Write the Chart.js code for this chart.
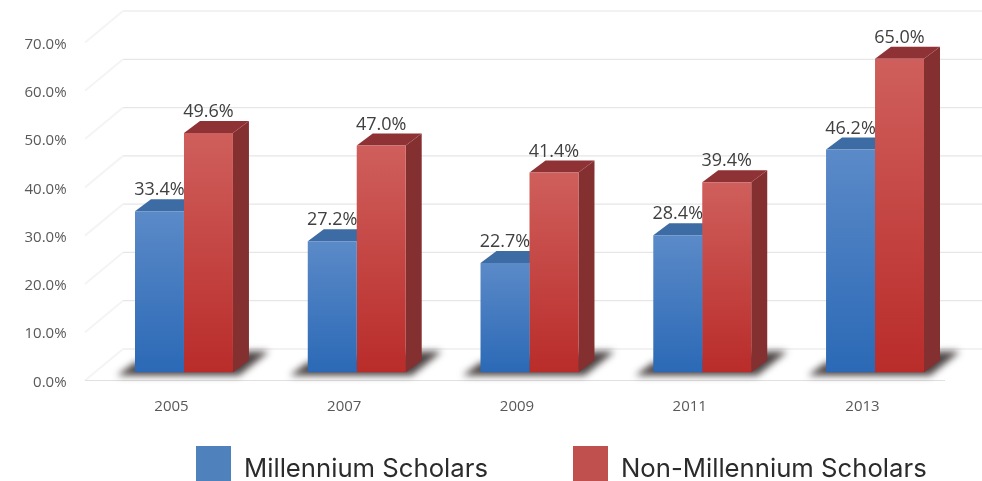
<!DOCTYPE html>
<html>
<head>
<meta charset="utf-8">
<title>Scholars chart</title>
<script src="https://cdn.jsdelivr.net/npm/chart.js@4"></script>
<style>
  html, body { margin: 0; padding: 0; background: #fff; overflow: hidden; }
  #wrap { position: relative; width: 982px; height: 481px; }
  #canvas-1 { filter: blur(0.5px); }
  #legend span { position: absolute; }
  #legend .box { top: 446px; width: 35px; height: 35px; }
  #legend .txt { top: 451px; font: 25.7px Inter, sans-serif; line-height: 34px; color: #2b2b2b; white-space: nowrap; }
</style>
</head>
<body>
<div id="wrap">
  <canvas id="canvas-1" width="982" height="481"></canvas>
  <div id="legend"></div>
</div>
<script>
var years = ['2005', '2007', '2009', '2011', '2013'];
var millennium = [33.4, 27.2, 22.7, 28.4, 46.2];
var nonMillennium = [49.6, 47.0, 41.4, 39.4, 65.0];
var legendLeft = [196, 573];

var faces = [
    { top: '#5b8ac8', bottom: '#2b69b6', roof: '#3d6ba3', side: '#2f5a94' },
    { top: '#cf5f5c', bottom: '#b92c2a', roof: '#8f3236', side: '#853030' }
];
var legendColors = ['#4f81bd', '#c0504d'];

function frontFill(index) {
    return function (context) {
        var chart = context.chart;
        if (!chart.chartArea || context.raw === undefined) return faces[index].bottom;
        var y = chart.scales.y;
        var g = chart.ctx.createLinearGradient(0, y.getPixelForValue(context.raw), 0, y.getPixelForValue(0));
        g.addColorStop(0, faces[index].top);
        g.addColorStop(1, faces[index].bottom);
        return g;
    };
}

// back wall, floor and the fake 3d sides of the bars
var depth3d = {
    id: 'depth3d',
    beforeDatasetsDraw: function (chart) {
        var ctx = chart.ctx;
        var y = chart.scales.y;
        ctx.save();
        y.ticks.forEach(function (t) {
            var py = y.getPixelForValue(t.value);
            ctx.strokeStyle = '#e6e6e6';
            ctx.lineWidth = 1.2;
            ctx.beginPath();
            ctx.moveTo(123, py - 23.5);
            ctx.lineTo(982, py - 23.5);
            ctx.stroke();
            ctx.strokeStyle = '#f4f4f4';
            ctx.lineWidth = 2;
            ctx.beginPath();
            ctx.moveTo(123, py - 23.5);
            ctx.lineTo(85, py + 8);
            ctx.stroke();
        });
        var base = y.getPixelForValue(0);
        ctx.strokeStyle = '#e0e0e0';
        ctx.lineWidth = 1.2;
        ctx.beginPath();
        ctx.moveTo(85, base + 8);
        ctx.lineTo(945, base + 8);
        ctx.stroke();

        // shadow on the floor
        var blue = chart.getDatasetMeta(0).data;
        var red = chart.getDatasetMeta(1).data;
        blue.forEach(function (b, i) {
            var l = b.x - b.width / 2;
            var r = red[i].x + red[i].width / 2;
            ctx.save();
            ctx.filter = 'blur(3.5px)';
            ctx.fillStyle = 'rgba(45,35,35,0.85)';
            ctx.beginPath();
            ctx.moveTo(l - 18, base + 3);
            ctx.lineTo(l, base - 10);
            ctx.lineTo(r + 16, base - 21);
            ctx.lineTo(r + 36, base - 21);
            ctx.lineTo(r + 6, base + 3);
            ctx.closePath();
            ctx.fill();
            ctx.restore();
        });

        // roof and right side, blue first so red covers it
        [0, 1].forEach(function (d) {
            chart.getDatasetMeta(d).data.forEach(function (b) {
                var l = b.x - b.width / 2, r = b.x + b.width / 2;
                ctx.fillStyle = faces[d].side;
                ctx.beginPath();
                ctx.moveTo(r, b.y);
                ctx.lineTo(r + 16, b.y - 12);
                ctx.lineTo(r + 16, base - 12);
                ctx.lineTo(r, base);
                ctx.closePath();
                ctx.fill();
                ctx.fillStyle = faces[d].roof;
                ctx.beginPath();
                ctx.moveTo(l, b.y);
                ctx.lineTo(l + 16, b.y - 12);
                ctx.lineTo(r + 16, b.y - 12);
                ctx.lineTo(r, b.y);
                ctx.closePath();
                ctx.fill();
            });
        });
        ctx.restore();
    },
    afterDatasetsDraw: function (chart) {
        var ctx = chart.ctx;
        ctx.save();
        ctx.font = '18px "Open Sans", sans-serif';
        ctx.fillStyle = '#404040';
        ctx.textAlign = 'center';
        ctx.textBaseline = 'middle';
        chart.data.datasets.forEach(function (ds, d) {
            chart.getDatasetMeta(d).data.forEach(function (b, i) {
                ctx.fillText(ds.data[i].toFixed(1) + '%', b.x, b.y - 21);
            });
        });
        ctx.restore();
    }
};

var ctx = document.getElementById('canvas-1');
var chart = new Chart(ctx, {
    type: 'bar',
    data: {
        labels: years,
        datasets: [
            { label: 'Millennium Scholars', data: millennium, backgroundColor: frontFill(0) },
            { label: 'Non-Millennium Scholars', data: nonMillennium, backgroundColor: frontFill(1) }
        ]
    },
    options: {
        responsive: false,
        animation: false,
        layout: { padding: { top: 34.5, right: 20.6, left: 0, bottom: 0 } },
        datasets: { bar: { categoryPercentage: 0.567, barPercentage: 1 } },
        plugins: { legend: { display: false }, tooltip: { enabled: false } },
        scales: {
            x: {
                grid: { display: false },
                border: { display: false },
                afterFit: function (s) { s.height = 108.5; },
                ticks: {
                    padding: 17,
                    labelOffset: -12.5,
                    maxRotation: 0,
                    color: '#595959',
                    font: { family: '"Open Sans"', size: 15 }
                }
            },
            y: {
                min: 0,
                max: 70,
                grid: { display: false },
                border: { display: false },
                afterFit: function (s) { s.width = 97.6; },
                ticks: {
                    stepSize: 10,
                    padding: 23,
                    labelOffset: 10,
                    color: '#595959',
                    font: { family: '"Open Sans"', size: 15 },
                    callback: function (v) { return v.toFixed(1) + '%'; }
                }
            }
        }
    },
    plugins: [depth3d]
});

// legend sits off-centre in the picture so it is built by hand from the datasets
var legend = document.getElementById('legend');
chart.data.datasets.forEach(function (ds, i) {
    var box = document.createElement('span');
    box.className = 'box';
    box.style.left = legendLeft[i] + 'px';
    box.style.background = legendColors[i];
    var txt = document.createElement('span');
    txt.className = 'txt';
    txt.style.left = (legendLeft[i] + 48) + 'px';
    txt.textContent = ds.label;
    legend.appendChild(box);
    legend.appendChild(txt);
});
</script>
</body>
</html>
